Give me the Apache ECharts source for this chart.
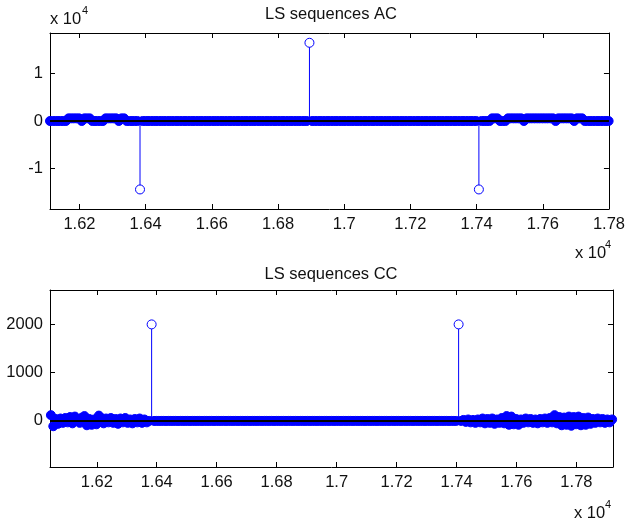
<!DOCTYPE html>
<html>
<head>
<meta charset="utf-8">
<script src="https://cdn.jsdelivr.net/npm/echarts@6/dist/echarts.min.js"></script>
<style>
html,body{margin:0;padding:0;background:#fff;}
#chart{width:628px;height:525px;}
</style>
</head>
<body>
<div id="chart"></div>
<script>
// ---------- DATA ----------
const chartTitles = ['LS sequences AC', 'LS sequences CC'];

// AC: lags sampled every 8 starting at 16111
const acLagStart = 16111;
const acLagStep = 8;
const acValues = [
  0,0,0,0,0,0,0,550,550,550,550,550,0,550,550,550,0,0,0,0,
  0,550,550,550,550,550,0,550,550,0,0,0,0,0,-14336,0,0,0,0,0,
  0,0,0,0,0,0,0,0,0,0,0,0,0,0,0,0,0,0,0,0,
  0,0,0,0,0,0,0,0,0,0,0,0,0,0,0,0,0,0,0,0,
  0,0,0,0,0,0,0,0,0,0,0,0,0,0,0,0,0,0,16384,0,
  0,0,0,0,0,0,0,0,0,0,0,0,0,0,0,0,0,0,0,0,
  0,0,0,0,0,0,0,0,0,0,0,0,0,0,0,0,0,0,0,0,
  0,0,0,0,0,0,0,0,0,0,0,0,0,0,0,0,0,0,0,0,
  0,0,-14336,0,0,0,0,550,550,550,0,0,0,550,550,550,550,550,550,0,
  550,550,550,550,550,550,550,550,550,550,550,0,550,550,550,550,550,550,0,550,
  550,550,0,0,0,0,0,0,0,0,0,0
];

// CC: lags sampled every 8 starting at 16047
const ccLagStart = 16047;
const ccLagStep = 8;
const ccValues = [
  120,-110,40,-60,50,-40,60,-30,80,-50,90,30,-40,70,100,-90,40,-80,30,-70,
  110,60,-50,50,-30,60,-40,40,-60,50,-30,60,-40,30,-50,40,-30,50,-40,30,
  -30,0,
  2000,
  0,0,0,0,0,0,0,0,0,0,0,0,0,0,0,0,0,0,0,0,
  0,0,0,0,0,0,0,0,0,0,0,0,0,0,0,0,0,0,0,0,
  0,0,0,0,0,0,0,0,0,0,0,0,0,0,0,0,0,0,0,0,
  0,0,0,0,0,0,0,0,0,0,0,0,0,0,0,0,0,0,0,0,
  0,0,0,0,0,0,0,0,0,0,0,0,0,0,0,0,0,0,0,0,
  0,0,0,0,0,0,0,0,0,0,0,0,0,0,0,0,0,0,0,0,
  0,0,0,0,0,0,0,
  2000,
  0,20,-20,30,-30,20,-40,30,-30,50,-50,40,-40,50,-60,30,-40,60,-50,
  100,-80,90,-70,40,-80,30,-40,50,-30,40,-40,30,-50,40,-30,50,-40,60,-30,
  120,-50,80,-90,70,-80,90,-100,80,-70,90,-90,60,-80,70,-60,40,-40,50,-30,
  40,-40,30,-30,30
];

// axis ranges and ticks
const acXRange = [16111, 17800];
const acYRange = [-18432, 18432];
const ccXRange = [16044, 17922];
const ccYRange = [-955, 2713];
const acXTicks = [16200,16400,16600,16800,17000,17200,17400,17600,17800];
const ccXTicks = [16200,16400,16600,16800,17000,17200,17400,17600,17800];
const acYTicks = [-10000, 0, 10000];
const ccYTicks = [0, 1000, 2000];
const exponentText = 'x 10';
const exponentSup = '4';

// ---------- BUILD ----------
const FONT = "'Liberation Sans', Arial, Helvetica, sans-serif";
const BLUE = '#0000ff';
const TXT = '#111';

const acPoints = acValues.map((v, i) => [acLagStart + i * acLagStep, v]);
const ccPoints = ccValues.map((v, i) => [ccLagStart + i * ccLagStep, v]);

function fmtE4(v) { return String(parseFloat((v / 10000).toFixed(4))); }

const grids = [
  { left: 50, top: 33, width: 563, height: 176 },
  { left: 50, top: 290, width: 563, height: 177 }
];

function xAxes(gi, range, ticks) {
  const base = {
    type: 'value', gridIndex: gi, min: range[0], max: range[1],
    splitLine: { show: false },
    axisLine: { show: true, onZero: false, lineStyle: { color: '#000', width: 1 } },
    axisTick: { show: true, inside: true, length: 5, customValues: ticks, lineStyle: { color: '#000' } }
  };
  return [
    Object.assign({}, base, {
      position: 'bottom',
      axisLabel: { show: true, customValues: ticks, formatter: fmtE4, margin: 7,
        color: TXT, fontSize: 16.5, fontFamily: FONT, hideOverlap: false }
    }),
    Object.assign({}, base, { position: 'top', axisLabel: { show: false } })
  ];
}
function yAxes(gi, range, ticks, fmt) {
  const base = {
    type: 'value', gridIndex: gi, min: range[0], max: range[1],
    splitLine: { show: false },
    axisLine: { show: true, onZero: false, lineStyle: { color: '#000', width: 1 } },
    axisTick: { show: true, inside: true, length: 5, customValues: ticks, lineStyle: { color: '#000' } }
  };
  return [
    Object.assign({}, base, {
      position: 'left',
      axisLabel: { show: true, customValues: ticks, formatter: fmt, margin: 7,
        color: TXT, fontSize: 16.5, fontFamily: FONT, hideOverlap: false }
    }),
    Object.assign({}, base, { position: 'right', axisLabel: { show: false } })
  ];
}

function seriesFor(points, xi, yi) {
  return [
    {
      type: 'bar', xAxisIndex: xi, yAxisIndex: yi, data: points,
      barWidth: 1, itemStyle: { color: BLUE }, z: 2, silent: true, animation: false
    },
    {
      type: 'scatter', xAxisIndex: xi, yAxisIndex: yi, data: points,
      symbol: 'circle', symbolSize: 9, z: 3, silent: true, animation: false,
      itemStyle: {
        color: (p) => Math.abs(p.value[1]) > 1000 ? '#ffffff' : BLUE,
        borderColor: BLUE, borderWidth: 1, opacity: 1
      },
      markLine: {
        silent: true, symbol: ['none', 'none'], animation: false,
        label: { show: false },
        lineStyle: { color: '#000', width: 2, type: 'solid' },
        emphasis: { disabled: true },
        data: [{ yAxis: 0 }],
        z: 5
      }
    }
  ];
}

function expLabel(x, y, sx, sy) {
  return [
    { type: 'text', x: x, y: y, silent: true,
      style: { text: exponentText, fill: TXT, font: '16.5px ' + FONT,
        textAlign: 'left', textVerticalAlign: 'middle', align: 'left', verticalAlign: 'middle' } },
    { type: 'text', x: sx, y: sy, silent: true,
      style: { text: exponentSup, fill: TXT, font: '11px ' + FONT,
        textAlign: 'left', textVerticalAlign: 'middle', align: 'left', verticalAlign: 'middle' } }
  ];
}

const option = {
  backgroundColor: '#ffffff',
  animation: false,
  title: [
    { text: chartTitles[0], left: 331, top: 6, textAlign: 'center', padding: 0,
      textStyle: { fontSize: 16.5, fontWeight: 'normal', color: TXT, fontFamily: FONT } },
    { text: chartTitles[1], left: 331, top: 265.5, textAlign: 'center', padding: 0,
      textStyle: { fontSize: 16.5, fontWeight: 'normal', color: TXT, fontFamily: FONT } }
  ],
  grid: grids,
  xAxis: [].concat(xAxes(0, acXRange, acXTicks), xAxes(1, ccXRange, ccXTicks)),
  yAxis: [].concat(
    yAxes(0, acYRange, acYTicks, fmtE4),
    yAxes(1, ccYRange, ccYTicks, (v) => String(v))
  ),
  series: [].concat(seriesFor(acPoints, 0, 0), seriesFor(ccPoints, 2, 2)),
  graphic: [].concat(
    expLabel(50, 19.5, 82, 11),
    expLabel(575, 253, 605, 245),
    expLabel(574, 513, 605, 505)
  )
};

const chart = echarts.init(document.getElementById('chart'), null, { renderer: 'canvas' });
chart.setOption(option);
</script>
</body>
</html>
